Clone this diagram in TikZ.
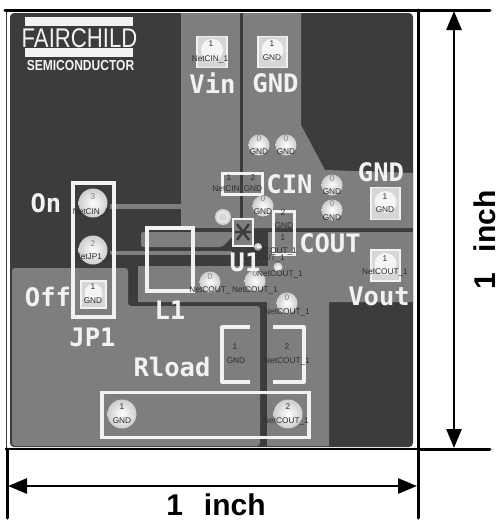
\documentclass[tikz,border=0pt]{standalone}
\usepackage{graphicx}
\usepackage{fontspec}
\setmainfont{Liberation Sans}
\newfontfamily\silk{DejaVu Sans Mono}
\usetikzlibrary{arrows.meta}
\definecolor{darkcu}{HTML}{3C3C3C}
\definecolor{midcu}{HTML}{7E7E7E}
\definecolor{padlight}{HTML}{D6D6D6}
\definecolor{silkw}{HTML}{F2F2F2}
\definecolor{nettext}{HTML}{2E2E2E}
\tikzset{
  x=1pt,y=-1pt,
  copper/.style={fill=midcu,draw=none},
  silkbox/.style={draw=silkw,line width=3.2pt,fill=none,line join=round},
  silkthin/.style={draw=silkw,line width=2.2pt,fill=none},
  sq/.style={draw=silkw,line width=1.6pt,fill=padlight,inner sep=0pt},
  via/.style={circle,draw=none,inner color=white,outer color=padlight!90!gray,inner sep=0pt},
  net/.style={text=nettext,font=\fontsize{8.3}{9}\selectfont,inner sep=0pt},
  lbl/.style={text=silkw,font=\silk\bfseries\fontsize{25.5}{26}\selectfont,inner sep=0pt},
  dim/.style={draw=black,line width=3pt,line cap=round},
  dimarrow/.style={draw=black,line width=2.8pt,{Triangle[length=19pt,width=15pt]}-{Triangle[length=19pt,width=15pt]},shorten <=0pt,shorten >=0pt},
  dimtext/.style={font=\bfseries\fontsize{30}{31}\selectfont,text=black,inner sep=0pt}
}
\begin{document}
\begin{tikzpicture}
\useasboundingbox (0,0) rectangle (498,520);
\fill[white] (0,0) rectangle (498,520);
% board
\draw[draw=darkcu,line width=1pt] (6,8.5) -- (6,449);
\fill[darkcu,rounded corners=4pt] (10,13) rectangle (413,447);
% Vin copper
\fill[midcu] (181,13) rectangle (240,228);
% GND copper
\fill[midcu] (243,13) -- (301,13) -- (301,125) -- (325,170) -- (413,173) -- (413,228) -- (243,228) -- cycle;
% thin traces
\fill[midcu] (110,204) rectangle (181,209);
\fill[midcu] (110,251) rectangle (232,255);
% input bar with slanted end
\fill[midcu,rounded corners=2pt] (141,232) -- (237,232) -- (222,247) -- (141,247) -- cycle;
% output copper
\fill[midcu] (268,232) -- (413,232) -- (413,302) -- (329,302) -- (329,446) -- (267,446) -- (267,302) -- (138,302) -- (138,266) -- (268,266) -- cycle;
% bottom ground copper
\fill[midcu,rounded corners=3pt] (12,268) -- (128,268) -- (128,306) -- (260,306) -- (260,446) -- (12,446) -- cycle;
% logo
\fill[silkw] (25,17) rectangle (133,26);
\fill[silkw] (25,48) rectangle (133,57);
\node[inner sep=0pt,text=silkw,font=\fontsize{27}{28}\selectfont,anchor=center] (logoa) at (79.5,38) {\scalebox{0.82}[1]{FAIRCHILD}};
\node[inner sep=0pt,text=silkw,font=\bfseries\fontsize{14.5}{15}\selectfont,anchor=center] (logob) at (80.5,66) {\scalebox{0.83}[1]{SEMICONDUCTOR}};
% silkscreen outlines
\node[draw=silkw,line width=3.2pt,minimum width=41pt,minimum height=134pt,inner sep=0pt] (jpbox) at (93.5,250) {};
\node[draw=silkw,line width=3.6pt,minimum width=46pt,minimum height=63pt,inner sep=0pt] (lbox) at (170,259.5) {};
\node[draw=silkw,line width=2.2pt,minimum width=40pt,minimum height=21pt,inner sep=0pt] (cinbox) at (242.5,184) {};
\node[draw=silkw,line width=2.2pt,minimum width=21pt,minimum height=43pt,inner sep=0pt] (coutbox) at (284,233) {};
\node[draw=silkw,line width=3.2pt,minimum width=207pt,minimum height=45pt,inner sep=0pt] (rbox) at (205.5,415) {};
\draw[silkbox] (250,327) -- (222,327) -- (222,382) -- (250,382);
\draw[silkbox] (273,327) -- (304,327) -- (304,382) -- (273,382);
% U1 package
\node[fill=midcu,draw=silkw,line width=2pt,minimum width=20pt,minimum height=27pt,inner sep=0pt] (ubox) at (243,232) {};
\draw[darkcu,line width=2.4pt] (237,224) -- (249,240) (249,224) -- (237,240) (235,232) -- (251,232);
% square pads
\node[sq,minimum width=30pt,minimum height=31pt] (pvin) at (212,52) {};
\node[sq,minimum width=29pt,minimum height=31pt] (pgnd) at (272.5,52) {};
\node[sq,minimum width=29pt,minimum height=32pt] (pgndr) at (385.5,203.5) {};
\node[sq,minimum width=29pt,minimum height=31pt] (pvout) at (385.5,265.5) {};
\node[sq,minimum width=25pt,minimum height=27pt] (pjp) at (93.5,294.5) {};
\foreach \n/\x/\y/\r in {ha/212/50/11,hb/272.5/50/11,hc/385.5/202/11,hd/385.5/264/11,he/93.5/293/9}
  \fill[white!92!gray] (\x,\y) circle[radius=\r];
% round vias
\node[via,minimum size=29pt] (j3) at (93,203) {};
\node[via,minimum size=29pt] (j2) at (93,250) {};
\node[via,minimum size=29pt] (r1) at (122,414) {};
\node[via,minimum size=29pt] (r2) at (288,414) {};
\node[via,minimum size=21pt] (v1) at (259,145) {};
\node[via,minimum size=21pt] (v2) at (286,145) {};
\node[via,minimum size=21pt] (v3) at (332,185) {};
\node[via,minimum size=21pt] (v4) at (332,210) {};
\node[via,minimum size=21pt] (v5) at (263,206) {};
\node[via,minimum size=21pt] (v6) at (210,282) {};
\node[via,minimum size=21pt] (v7) at (255,281) {};
\node[via,minimum size=21pt] (v8) at (287,303) {};
\node[via,minimum size=9pt] (v9) at (278,267) {};
\node[via,minimum size=8pt] (v10) at (258,247) {};
\node[circle,fill=padlight,draw=none,minimum size=16pt,inner sep=0pt] (tgt) at (223,217) {};
\draw[silkw,line width=1pt] (tgt.center) circle[radius=5];
% net texts
\node[net] (t1) at (211,44) {1};
\node[net] (t2) at (210,59) {NetCIN\_1};
\node[net] (t3) at (272,44) {1};
\node[net] (t4) at (272,58) {GND};
\node[net] (t5) at (385,197) {1};
\node[net] (t6) at (385,210) {GND};
\node[net] (t7) at (385,259) {1};
\node[net] (t8) at (385,272) {NetCOUT\_1};
\node[net] (t9) at (93,197) {\textcolor{gray}{3}};
\node[net] (t10) at (91,212) {NetCIN\_1};
\node[net] (t11) at (93,244) {\textcolor{gray}{2}};
\node[net] (t12) at (93,257) {NetJP1\_2};
\node[net] (t13) at (93,287) {1};
\node[net] (t14) at (93,301) {GND};
\node[net] (t15) at (122,407) {1};
\node[net] (t16) at (122,421) {GND};
\node[net] (t17) at (288,407) {2};
\node[net] (t18) at (286,421) {NetCOUT\_1};
\node[net] (t19) at (235,347) {1};
\node[net] (t20) at (236,361) {GND};
\node[net] (t21) at (287,347) {2};
\node[net] (t22) at (287,361) {NetCOUT\_1};
\foreach \n/\x/\y/\s in {a/259/139/0,b/286/139/0,c/332/179/0,d/332/204/0,e/263/199/0,f/210/277/0,g/255/274/0,h/287/298/0}
  \node[net,text=gray] (z\n) at (\x,\y) {\s};
\foreach \n/\x/\y in {a/259/152,b/286/152,c/332/192,d/332/218,e/263/212}
  \node[net] (g\n) at (\x,\y) {GND};
\node[net] (c1) at (210,290) {NetCOUT\_};
\node[net] (c2) at (255,290) {NetCOUT\_1};
\node[net] (c3) at (287,312) {NetCOUT\_1};
\node[net] (c4) at (280,274) {NetCOUT\_1};
\node[net] (c5) at (262,258) {NetCOUT\_1};
\node[net] (c6) at (229,178) {1};
\node[net] (c7) at (253,178) {2};
\node[net] (c8) at (226,189) {NetCIN};
\node[net] (c9) at (253,189) {GND};
\node[net] (c10) at (283,213) {2};
\node[net] (c11) at (284,226) {GND};
\node[net] (c12) at (283,238) {1};
\node[net] (c13) at (274,251) {NetCOUT\_1};
% silk labels
\node[lbl] (lvin) at (212.5,83) {Vin};
\node[lbl] (lgnd) at (275.5,83) {GND};
\node[lbl] (lcin) at (289.5,184) {CIN};
\node[lbl] (lgndr) at (381,172) {GND};
\node[lbl] (lcout) at (330,243) {COUT};
\node[lbl] (lvout) at (379,296) {Vout};
\node[lbl] (lu) at (245,262) {U1};
\node[lbl] (lon) at (46,203) {On};
\node[lbl] (loff) at (48,297) {Off};
\node[lbl] (ljp) at (92.5,337) {JP1};
\node[lbl] (ll) at (170,310) {L1};
\node[lbl] (lrl) at (172,367) {Rload};
% dimension lines
\coordinate (tl) at (5,10);
\coordinate (tr) at (490,10);
\coordinate (bl) at (7,449);
\coordinate (brr) at (490,449);
\coordinate (rt) at (418,10);
\coordinate (rb) at (418,518);
\coordinate (lb) at (7,518);
\coordinate (vt) at (454,11);
\coordinate (vb) at (454,448);
\coordinate (hl) at (8,486);
\coordinate (hr) at (417,486);
\draw[dim] (tl) -- (tr);
\draw[draw=black,line width=1.6pt] (5,449) -- (418,449);
\draw[dim] (418,449) -- (brr);
\draw[dim] (rt) -- (rb);
\draw[dim] (bl) -- (lb);
\draw[dimarrow] (vt) -- (vb);
\draw[dimarrow] (hl) -- (hr);
\node[dimtext] (dh) at (216,504.5) {1\hspace{0.42em} inch};
\node[dimtext,rotate=90] (dv) at (484.5,240) {1\hspace{0.42em} inch};
\end{tikzpicture}
\end{document}
